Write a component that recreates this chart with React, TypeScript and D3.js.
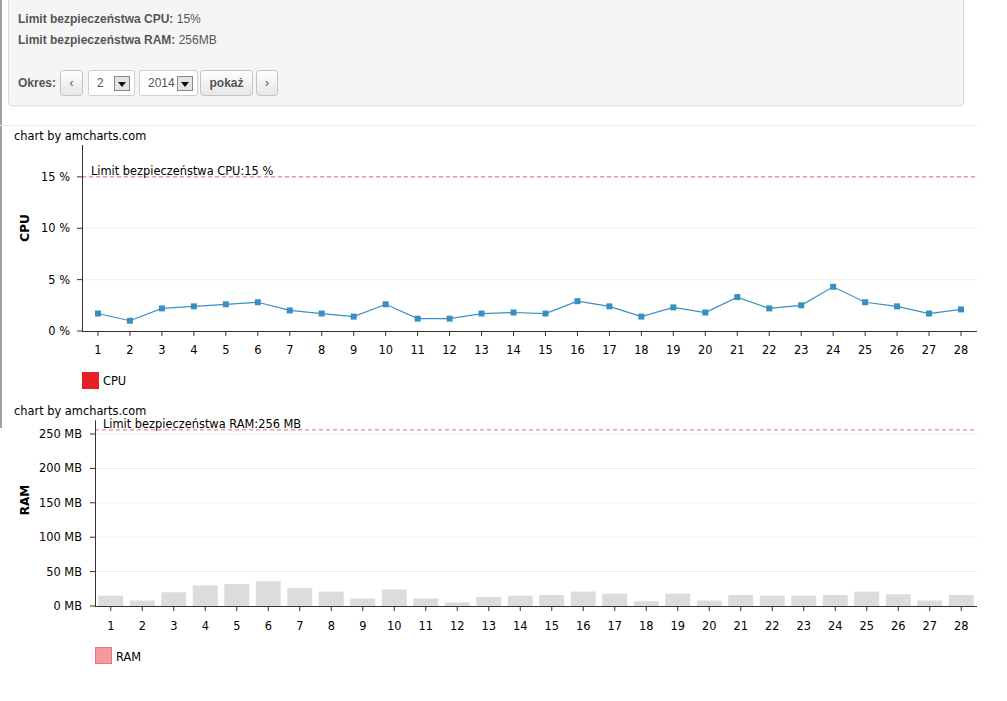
import React from "react";
import * as d3 from "d3";

const days: string[] = Array.from({ length: 28 }, (_, i) => String(i + 1));
const cpuValues: number[] = [1.7, 1.0, 2.2, 2.4, 2.6, 2.8, 2.0, 1.7, 1.4, 2.6, 1.2, 1.2, 1.7, 1.8, 1.7, 2.9, 2.4, 1.4, 2.3, 1.8, 3.3, 2.2, 2.5, 4.3, 2.8, 2.4, 1.7, 2.1];
const ramValues: number[] = [15, 8, 20, 30, 32, 36, 26, 21, 11, 24, 11, 5, 13, 15, 16, 21, 18, 7, 18, 8, 16, 15, 15, 16, 21, 17, 8, 16];
const cpuTicks: number[] = [0, 5, 10, 15];
const ramTicks: number[] = [0, 50, 100, 150, 200, 250];
const cpuLimit = 15;
const ramLimit = 256;

const FONT = "'DejaVu Sans', Verdana, sans-serif";
const UI = "'Liberation Sans', Arial, Helvetica, sans-serif";
const FS = 11.4;

function Button({ x, w, label, bold }: { x: number; w: number; label: string; bold?: boolean }) {
  return (
    <g>
      <rect x={x + 0.5} y={70.5} width={w} height={25} rx={3} fill="url(#btnGrad)" stroke="#c4c4c4" />
      <text x={x + w / 2 + 0.5} y={87} textAnchor="middle" fontFamily={UI} fontSize={12} fontWeight={bold ? "bold" : "normal"} fill="#555">
        {label}
      </text>
    </g>
  );
}

function Select({ x, w, label }: { x: number; w: number; label: string }) {
  const ax = x + w - 20;
  return (
    <g>
      <rect x={x + 0.5} y={70.5} width={w} height={25} rx={2} fill="#fff" stroke="#cfcfcf" />
      <text x={x + 9} y={87} fontFamily={UI} fontSize={12} fill="#555">{label}</text>
      <rect x={ax + 0.5} y={76.5} width={15} height={14} fill="#e4e4e4" stroke="#888" />
      <path d={`M${ax + 4},${82} L${ax + 12},${82} L${ax + 8},${87} Z`} fill="#111" />
    </g>
  );
}

function CpuChart() {
  const x = d3.scaleBand<string>().domain(days).range([82, 977]);
  const y = d3.scaleLinear().domain([0, 20]).range([331, 125.5]);
  const cx = (d: string) => (x(d) as number) + x.bandwidth() / 2;
  const line = d3.line<number>().x((_, i) => cx(days[i])).y((v) => y(v));
  const axisTop = y(18.1);
  return (
    <g>
      <line x1={0} x2={977} y1={y(20)} y2={y(20)} stroke="#ececec" />
      {cpuTicks.filter((t) => t > 0).map((t) => (
        <line key={t} x1={82} x2={977} y1={y(t)} y2={y(t)} stroke="#eeeeee" />
      ))}
      <text x={14} y={140} fontFamily={FONT} fontSize={FS} fill="#000">chart by amcharts.com</text>
      <line x1={82} x2={977} y1={y(cpuLimit)} y2={y(cpuLimit)} stroke="#e07070" strokeDasharray="4,3" />
      <text x={91} y={175} fontFamily={FONT} fontSize={FS} fill="#000">Limit bezpieczeństwa CPU:15 %</text>
      <line x1={82.5} x2={82.5} y1={axisTop} y2={331} stroke="#333" />
      {cpuTicks.map((t) => (
        <g key={t}>
          <line x1={77} x2={82} y1={y(t)} y2={y(t)} stroke="#333" />
          <text x={70} y={y(t) + 4} textAnchor="end" fontFamily={FONT} fontSize={FS} fill="#000">{`${t} %`}</text>
        </g>
      ))}
      <line x1={82} x2={977} y1={331.5} y2={331.5} stroke="#333" />
      {days.map((d) => (
        <g key={d}>
          <line x1={cx(d)} x2={cx(d)} y1={331} y2={336} stroke="#333" />
          <text x={cx(d)} y={354} textAnchor="middle" fontFamily={FONT} fontSize={FS} fill="#000">{d}</text>
        </g>
      ))}
      <path d={line(cpuValues) as string} fill="none" stroke="#3a8fc2" strokeWidth={1.2} />
      {cpuValues.map((v, i) => (
        <rect key={i} x={cx(days[i]) - 3} y={y(v) - 3} width={6} height={6} fill="#3a8fc2" />
      ))}
      <text transform={`translate(29,228) rotate(-90)`} textAnchor="middle" fontFamily={FONT} fontSize={12} fontWeight="bold" fill="#000">CPU</text>
      <rect x={82} y={372} width={17} height={17} fill="#e82025" />
      <text x={103} y={385} fontFamily={FONT} fontSize={FS} fill="#000">CPU</text>
    </g>
  );
}

function RamChart() {
  const xc = d3.scaleBand<string>().domain(days).range([95, 977]);
  const y = d3.scaleLinear().domain([0, 250]).range([606, 434]);
  const cx = (d: string) => (xc(d) as number) + xc.bandwidth() / 2;
  const bw = xc.bandwidth() * 0.79;
  const axisTop = y(270);
  return (
    <g>
      {ramTicks.filter((t) => t > 0).map((t) => (
        <line key={t} x1={95} x2={977} y1={y(t)} y2={y(t)} stroke="#eeeeee" />
      ))}
      <text x={14} y={415} fontFamily={FONT} fontSize={FS} fill="#000">chart by amcharts.com</text>
      {ramValues.map((v, i) => (
        <rect key={i} x={cx(days[i]) - bw / 2} y={y(v)} width={bw} height={y(0) - y(v)} fill="#dcdcdc" />
      ))}
      <line x1={95} x2={977} y1={y(ramLimit)} y2={y(ramLimit)} stroke="#e07070" strokeDasharray="4,3" />
      <text x={103} y={428} fontFamily={FONT} fontSize={FS} fill="#000">Limit bezpieczeństwa RAM:256 MB</text>
      <line x1={95.5} x2={95.5} y1={axisTop} y2={606} stroke="#333" />
      {ramTicks.map((t) => (
        <g key={t}>
          <line x1={90} x2={95} y1={y(t)} y2={y(t)} stroke="#333" />
          <text x={82} y={y(t) + 4} textAnchor="end" fontFamily={FONT} fontSize={FS} fill="#000">{`${t} MB`}</text>
        </g>
      ))}
      <line x1={95} x2={977} y1={606.5} y2={606.5} stroke="#333" />
      {days.map((d) => (
        <g key={d}>
          <line x1={cx(d)} x2={cx(d)} y1={606} y2={611} stroke="#333" />
          <text x={cx(d)} y={630} textAnchor="middle" fontFamily={FONT} fontSize={FS} fill="#000">{d}</text>
        </g>
      ))}
      <text transform={`translate(29,500) rotate(-90)`} textAnchor="middle" fontFamily={FONT} fontSize={12} fontWeight="bold" fill="#000">RAM</text>
      <rect x={95.5} y={647.5} width={16} height={16} fill="#f39a9c" stroke="#e07a7c" />
      <text x={116} y={661} fontFamily={FONT} fontSize={FS} fill="#000">RAM</text>
    </g>
  );
}

export default function App() {
  return (
    <svg width={1007} height={701} style={{ position: "absolute", left: 0, top: 0, background: "#fff" }}>
      <defs>
        <linearGradient id="btnGrad" x1="0" y1="0" x2="0" y2="1">
          <stop offset="0" stopColor="#ffffff" />
          <stop offset="1" stopColor="#e6e6e6" />
        </linearGradient>
      </defs>
      <rect x={0} y={0} width={1007} height={701} fill="#fff" />
      <line x1={1} x2={1} y1={0} y2={428} stroke="#a0a0a0" strokeWidth={2} />
      <rect x={8.5} y={-10} width={955} height={116} rx={4} fill="#f5f5f5" stroke="#dadada" />
      <text x={18} y={23} fontFamily={UI} fontSize={12} fill="#555">
        <tspan fontWeight="bold">Limit bezpieczeństwa CPU:</tspan> 15%
      </text>
      <text x={18} y={44} fontFamily={UI} fontSize={12} fill="#555">
        <tspan fontWeight="bold">Limit bezpieczeństwa RAM:</tspan> 256MB
      </text>
      <text x={18} y={87} fontFamily={UI} fontSize={12} fontWeight="bold" fill="#555">Okres:</text>
      <Button x={60} w={22} label="‹" />
      <Select x={88} w={46} label="2" />
      <Select x={139} w={58} label="2014" />
      <Button x={200} w={52} label="pokaż" bold />
      <Button x={256} w={21} label="›" />
      <CpuChart />
      <RamChart />
    </svg>
  );
}
